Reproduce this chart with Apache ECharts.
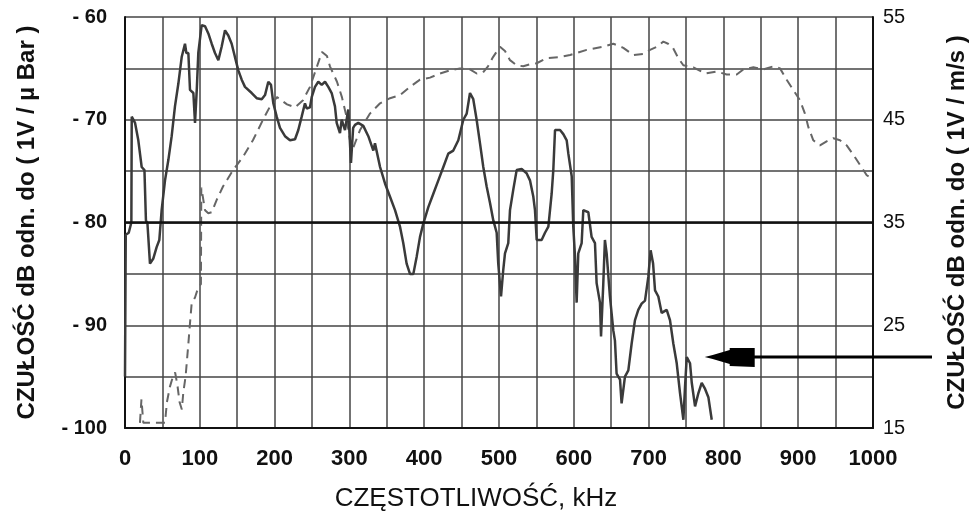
<!DOCTYPE html>
<html>
<head>
<meta charset="utf-8">
<script src="https://cdn.jsdelivr.net/npm/echarts@6/dist/echarts.min.js"></script>
<style>
    html, body { margin: 0; padding: 0; background: #fff; }
    #chart-response { width: 971px; height: 513px; }
</style>
</head>
<body>
<div id="chart-response"></div>
<script>
"use strict";

// kHz / dB re 1V/(m/s)  (solid trace, right axis)
var solidFreq = [0, 1, 5, 8.5, 9, 13.4, 17.8, 22.3, 26, 28, 30, 33.4, 37.9, 42.3, 45.9, 49, 53.5, 58, 62.4, 66.8,
    71.3, 75.8, 80.2, 82, 84.7, 86.9, 91.4, 93.6, 96, 98, 102.5, 107, 111.4, 115.9, 120.3, 124.8, 129.2, 133.7, 138.1, 142.6,
    147, 151.5, 156, 160.4, 169.4, 176, 182.8, 187.2, 191.6, 195.2, 198.3, 202.8, 207.2, 213.9, 220.6, 227.3, 231.7, 236.2, 240.6, 242.9,
    247.3, 249.6, 254, 258.4, 263, 267.4, 271.8, 276.3, 280.7, 283, 287.4, 289.7, 294.1, 298.5, 302.1, 305, 307.5, 311.9, 318.6, 325.3,
    332, 334.2, 341, 347.6, 354.3, 361, 367.6, 372, 376.5, 381, 385.5, 390, 394.4, 398.8, 405.5, 412.2, 418.9, 425.6, 432.2, 438.9,
    445.6, 452.3, 456.8, 461.2, 465.6, 470.1, 474.6, 479, 483.5, 488, 492.4, 496.9, 499, 502.7, 505.7, 508, 512.4, 514.7, 519.1, 523.6,
    530.3, 536.9, 541.4, 545.9, 548.1, 550.4, 557, 561.5, 566, 570.4, 572.6, 574.9, 581.6, 586, 590.5, 592.7, 597.2, 599.3, 601.6, 603.8,
    606, 610.5, 612.7, 619.4, 623.8, 628.3, 630.5, 635, 636.4, 639.4, 641.6, 643.9, 648.3, 652.8, 655, 657.2, 661.8, 663.9, 668.4, 672.9,
    677.3, 681.8, 686.2, 690.7, 695.2, 699.6, 702.7, 706, 708.6, 713, 717.5, 724.2, 728.6, 733.1, 737.6, 742, 746.5, 748.7, 751, 755.4,
    757.7, 762.1, 766.6, 771, 775.5, 779.9, 784.4];
var solidLevel = [20, 33.8, 34, 35, 45.3, 44.7, 43, 40.4, 40.1, 35.2, 34.9, 31, 31.5, 32.6, 33.3, 36.2, 39.1, 41.1, 43.4, 46.3,
    48.5, 51.1, 52.4, 51.5, 51.5, 47.9, 47.6, 44.7, 48, 51.5, 54.2, 54.1, 53.4, 52.4, 51.5, 50.8, 52.1, 53.7, 53.2, 52.4,
    51.1, 49.8, 48.9, 48.2, 47.6, 47.1, 47, 47.4, 48.7, 48.4, 46.6, 45.3, 44.2, 43.4, 43, 43.1, 44, 45.3, 46.6, 46.1,
    46.2, 47.2, 48.2, 48.7, 48.4, 48.7, 48.2, 47.6, 46.3, 44.7, 43.7, 45, 44, 46, 40.8, 44.2, 44.5, 44.7, 44.4, 43.4,
    42, 42.7, 40.4, 38.8, 37.5, 36.2, 34.6, 33, 31, 30, 30, 31.7, 33.6, 34.9, 36.5, 37.8, 39.1, 40.4, 41.7, 42,
    43, 45, 45.6, 47.6, 47, 45, 42.7, 40.4, 38.5, 36.9, 35.2, 34, 31, 27.8, 30.4, 32, 33, 36.2, 38.2, 40.1,
    40.2, 39.8, 39.1, 37.5, 36.2, 33.3, 33.3, 34, 34.6, 37.8, 40.1, 44, 44, 43.6, 43, 41.7, 39.5, 34.6, 31.7, 27.2,
    32, 33, 36.2, 36, 33.6, 33, 29.1, 27.2, 23.9, 29, 33.3, 32, 27.8, 24.5, 23.5, 20.3, 19.7, 17.4, 20, 20.6,
    23.2, 25.5, 26.5, 27.1, 27.4, 29.7, 32.3, 31, 28.4, 27.8, 26.2, 26.5, 25.5, 23.2, 21.3, 18.4, 15.8, 19, 21.9, 21.3,
    19.4, 17.1, 18.4, 19.4, 18.8, 18, 15.8];

// kHz / dB re 1V/µBar  (dashed trace, left axis)
var dashFreq = [20, 22, 24.5, 53.5, 56, 60, 64, 67, 70, 73, 76, 78, 81, 84.7, 86.9, 89.1, 93.6, 98, 101.5, 102,
    107, 111.4, 115.9, 122.6, 131, 144.4, 157.8, 171, 184.5, 193.9, 203.2, 216.6, 227.3, 238, 247.3, 256.7, 263.4, 270, 274, 283.4,
    290, 295.5, 300.8, 304.8, 310, 314.2, 327.5, 341, 354.3, 367.6, 381, 394.4, 407.8, 421, 434.5, 447.9, 461.2, 470.2, 478.6, 485.3,
    492, 501.3, 508, 514.7, 523.7, 532.5, 541.4, 550.4, 563.8, 581.6, 595, 617.2, 639, 652.8, 666.2, 679.5, 692.5, 701.9, 710.8, 719.7,
    726, 732.6, 739.7, 746.4, 759.8, 775.4, 791, 804.4, 817.8, 826.6, 840, 853.3, 866.7, 875.7, 884.6, 893.4, 902.4, 909, 913.5, 920.2,
    929.1, 938, 947, 955.9, 964.8, 973.7, 982.6, 991.6, 996];
var dashLevel = [-99.5, -97.2, -99.5, -99.5, -97.5, -96, -95, -94.6, -95.8, -97.5, -98.2, -96.5, -95, -91.8, -89.8, -87.9, -87.3, -86.3, -86, -76.6,
    -78.8, -79.1, -79, -77.8, -76.5, -74.9, -73.6, -72, -70, -68.7, -67.8, -68.5, -68.8, -68.1, -66.8, -64.8, -63.4, -63.8, -64.8, -66.3,
    -67.8, -69.5, -72, -72.8, -71.8, -71, -69.4, -68.4, -67.9, -67.6, -66.8, -66.1, -65.9, -65.5, -65.2, -65, -65.1, -65.5, -65.4, -64.8,
    -63.9, -62.9, -63.3, -64.2, -64.7, -64.8, -64.6, -64.5, -64, -63.9, -63.7, -63.2, -62.9, -62.6, -63, -63.7, -63.6, -63.2, -62.9, -62.4,
    -62.6, -63, -64, -64.7, -64.9, -65.5, -65.3, -65.6, -65.6, -65.1, -64.9, -65.1, -64.8, -65, -66.1, -67.1, -68.1, -69.4, -70.7, -72,
    -72.5, -72.1, -71.8, -72, -72.5, -73.4, -74.4, -75.4, -75.6];

var leftTicks = [-100, -90, -80, -70, -60];
var rightTicks = [15, 25, 35, 45, 55];
var freqTicks = [0, 100, 200, 300, 400, 500, 600, 700, 800, 900, 1000];

// arrow marking the solid trace, in data units of the right axis
var arrowTip = [775, 21.9];

function pairs(xs, ys) {
    var out = [];
    for (var i = 0; i < xs.length; i++) {
        out.push([xs[i], ys[i]]);
    }
    return out;
}

function getChart(id) {
    var dom = document.getElementById(id);
    return echarts.init(dom, null, { renderer: 'canvas' });
}

var fontFamily = '"Liberation Sans", Arial, sans-serif';
var chart = getChart('chart-response');

var option = {
    animation: false,
    backgroundColor: '#fff',
    grid: { left: 125, right: 98, top: 17, bottom: 85, outerBoundsMode: 'none' },
    xAxis: {
        type: 'value',
        min: 0,
        max: 1000,
        interval: 50,
        name: 'CZĘSTOTLIWOŚĆ, kHz',
        nameLocation: 'middle',
        nameGap: 58,
        nameTextStyle: { fontFamily: fontFamily, fontSize: 26, color: '#111', padding: [0, 46, 0, 0] },
        axisLine: { onZero: false, lineStyle: { color: '#111', width: 2 } },
        axisTick: { show: false },
        axisLabel: {
            margin: 20,
            fontFamily: fontFamily,
            fontSize: 22,
            fontWeight: 'bold',
            color: '#111',
            formatter: function (v) {
                return freqTicks.indexOf(v) >= 0 ? String(v) : '';
            }
        },
        splitLine: { show: true, lineStyle: { color: '#444', width: 1.5 } }
    },
    yAxis: [
        {
            type: 'value',
            min: -100,
            max: -60,
            interval: 5,
            name: 'CZUŁOŚĆ dB odn. do ( 1V / µ Bar )',
            nameLocation: 'middle',
            nameGap: 86,
            nameTextStyle: { fontFamily: fontFamily, fontSize: 24, fontWeight: 'bold', color: '#111' },
            axisLine: { show: true, lineStyle: { color: '#111', width: 2 } },
            axisTick: { show: false },
            axisLabel: {
                margin: 18,
                fontFamily: fontFamily,
                fontSize: 20,
                fontWeight: 'bold',
                color: '#111',
                formatter: function (v) {
                    return leftTicks.indexOf(v) >= 0 ? '- ' + Math.abs(v) : '';
                }
            },
            splitLine: { show: true, lineStyle: { color: '#444', width: 1.5 } }
        },
        {
            type: 'value',
            min: 15,
            max: 55,
            interval: 5,
            position: 'right',
            name: 'CZUŁOŚĆ dB odn. do ( 1V / m/s )',
            nameLocation: 'middle',
            nameGap: 72,
            nameRotate: 90,
            nameTextStyle: { fontFamily: fontFamily, fontSize: 24, fontWeight: 'bold', color: '#111' },
            axisLine: { show: true, lineStyle: { color: '#111', width: 2 } },
            axisTick: { show: false },
            axisLabel: {
                margin: 10,
                fontFamily: fontFamily,
                fontSize: 20,
                color: '#111',
                formatter: function (v) {
                    return rightTicks.indexOf(v) >= 0 ? String(v) : '';
                }
            },
            splitLine: { show: false }
        }
    ],
    series: [
        {
            name: 'dashed',
            type: 'line',
            yAxisIndex: 0,
            data: pairs(dashFreq, dashLevel),
            showSymbol: false,
            lineStyle: { color: '#666', width: 2, type: [9, 6] },
            markLine: {
                silent: true,
                symbol: 'none',
                label: { show: false },
                lineStyle: { color: '#111', width: 2.5, type: 'solid' },
                data: [{ yAxis: -80 }]
            },
            z: 3
        },
        {
            name: 'solid',
            type: 'line',
            yAxisIndex: 1,
            data: pairs(solidFreq, solidLevel),
            showSymbol: false,
            lineStyle: { color: '#3a3a3a', width: 2.5 },
            z: 4
        }
    ]
};

if (option && typeof option === "object") {
    chart.setOption(option, true);
}

// arrow pointing at the solid trace from the right-hand axis
var tip = chart.convertToPixel({ xAxisIndex: 0, yAxisIndex: 1 }, arrowTip);
chart.setOption({
    graphic: [
        {
            type: 'line',
            shape: { x1: tip[0] + 40, y1: tip[1], x2: 932, y2: tip[1] },
            style: { stroke: '#000', lineWidth: 3 },
            z: 10
        },
        {
            type: 'polygon',
            shape: {
                points: [
                    [tip[0], tip[1]],
                    [tip[0] + 8, tip[1] - 2],
                    [tip[0] + 25, tip[1] - 7],
                    [tip[0] + 25, tip[1] - 9],
                    [tip[0] + 50, tip[1] - 9],
                    [tip[0] + 50, tip[1] + 10],
                    [tip[0] + 25, tip[1] + 9],
                    [tip[0] + 25, tip[1] + 7],
                    [tip[0] + 8, tip[1] + 2]
                ]
            },
            style: { fill: '#000' },
            z: 10
        }
    ]
});

window.addEventListener('resize', function () {
    chart.resize();
});
</script>
</body>
</html>
